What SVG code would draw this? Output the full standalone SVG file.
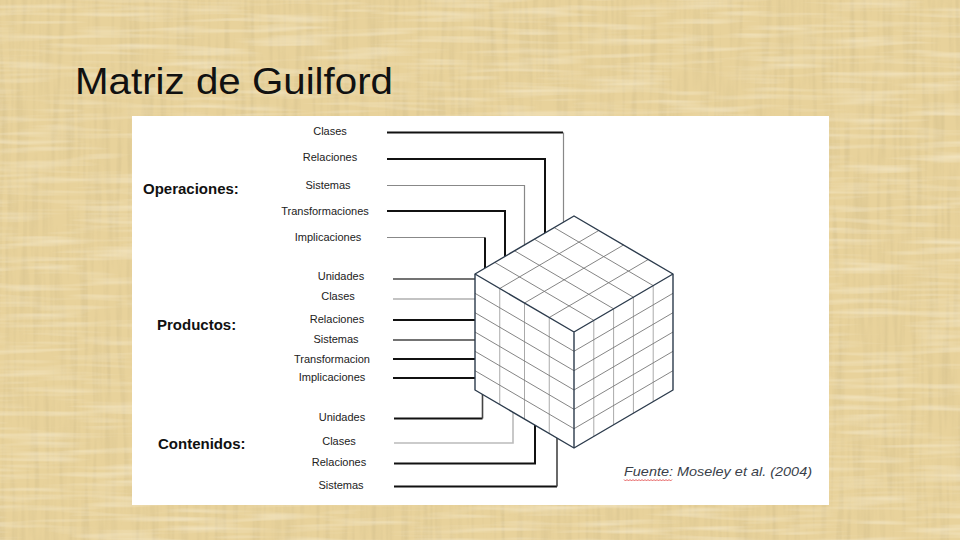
<svg xmlns="http://www.w3.org/2000/svg" width="960" height="540" viewBox="0 0 960 540">
<defs>
<filter id="tex" x="0" y="0" width="100%" height="100%">
<feTurbulence type="fractalNoise" baseFrequency="0.18 0.012" numOctaves="2" seed="3" result="v"/>
<feColorMatrix in="v" type="matrix" values="0 0 0 0 0.62 0 0 0 0 0.5 0 0 0 0 0.25 1.0 0 0 0 -0.42" result="va"/>
<feTurbulence type="fractalNoise" baseFrequency="0.012 0.18" numOctaves="2" seed="9" result="h"/>
<feColorMatrix in="h" type="matrix" values="0 0 0 0 0.98 0 0 0 0 0.93 0 0 0 0 0.78 1.0 0 0 0 -0.45" result="ha"/>
<feMerge><feMergeNode in="va"/><feMergeNode in="ha"/></feMerge>
</filter>
<style>
.lab{font-family:"Liberation Sans",Arial,sans-serif;font-size:11px;fill:#222;text-anchor:middle}
.head{font-family:"Liberation Sans",Arial,sans-serif;font-size:15px;font-weight:bold;fill:#111}
.k{fill:none;stroke:#111;stroke-width:2}
.d{fill:none;stroke:#444;stroke-width:1.6}
.g{fill:none;stroke:#888;stroke-width:1.2}
.lg{fill:none;stroke:#bbb;stroke-width:1.6}
.face{fill:#fff;stroke:none}
.gh{stroke:#777;stroke-width:0.9;fill:none}
.gv{stroke:#aaa;stroke-width:1;fill:none}
.edge{stroke:#2c3b4c;stroke-width:1.4;fill:none;stroke-linejoin:round}
</style>
</defs>
<rect x="0" y="0" width="960" height="540" fill="#e8d29b"/>
<rect x="0" y="0" width="960" height="540" filter="url(#tex)"/>
<text x="75" y="94" font-family="Liberation Sans,Arial,sans-serif" font-size="37" fill="#111" textLength="318" lengthAdjust="spacingAndGlyphs">Matriz de Guilford</text>
<rect x="132" y="116" width="697" height="389" fill="#fff"/>

<g id="connectors">
<path class="k" d="M387 132.5H563"/><path class="g" d="M563.5 132.5V230"/>
<path class="k" d="M387 159H545V240"/>
<path class="g" d="M387 185.5H524.5V250"/>
<path class="k" d="M387 211H505V262"/>
<path class="g" d="M387 237.5H485"/><path class="k" d="M485 237.5V272"/>
<path class="d" d="M393 279H476"/>
<path class="g" d="M393 299H476"/>
<path class="k" d="M393 320H476"/>
<path class="d" d="M393 340H476"/>
<path class="k" d="M393 359H476"/>
<path class="k" d="M393 378H476"/>
<path class="k" d="M394 418.5H482.5"/><path class="d" d="M482.5 418.5V392"/>
<path class="lg" d="M394 443H513V408"/>
<path class="k" d="M394 463.5H535V420"/>
<path class="k" d="M394 486.5H557"/><path class="d" d="M557 486.5V433"/>
</g>

<g id="cube">
<polygon class="face" points="574,216 475,274 475,390 574,448 673,390 673,274"/>
<g class="gh">
<path d="M494.8 262.4L593.8 320.4M514.6 250.8L613.6 308.8M534.4 239.2L633.4 297.2M554.2 227.6L653.2 285.6"/>
<path d="M499.75 288.5L598.75 230.5M524.5 303L623.5 245M549.25 317.5L648.25 259.5"/>
</g>
<g class="gv">
<path d="M499.75 288.5V404.5M524.5 303V419M549.25 317.5V433.5"/>
</g>
<g class="gh">
<path d="M475 293.3L574 351.3M475 312.7L574 370.7M475 332L574 390M475 351.3L574 409.3M475 370.7L574 428.7"/>
</g>
<g class="gv">
<path d="M593.8 320.4V436.4M613.6 308.8V424.8M633.4 297.2V413.2M653.2 285.6V401.6"/>
</g>
<g class="gh">
<path d="M574 351.3L673 293.3M574 370.7L673 312.7M574 390L673 332M574 409.3L673 351.3M574 428.7L673 370.7"/>
</g>
<polygon class="edge" points="574,216 475,274 475,390 574,448 673,390 673,274"/>
<path class="edge" d="M475 274L574 332L673 274M574 332V448"/>
</g>

<g id="labels-operaciones">
<text class="head" x="143" y="194">Operaciones:</text>
<text class="lab" x="330" y="135">Clases</text>
<text class="lab" x="330" y="161">Relaciones</text>
<text class="lab" x="328" y="189">Sistemas</text>
<text class="lab" x="325" y="215">Transformaciones</text>
<text class="lab" x="328" y="241">Implicaciones</text>
</g>
<g id="labels-productos">
<text class="head" x="157" y="330">Productos:</text>
<text class="lab" x="341" y="280">Unidades</text>
<text class="lab" x="338" y="300">Clases</text>
<text class="lab" x="337" y="323">Relaciones</text>
<text class="lab" x="336" y="343">Sistemas</text>
<text class="lab" x="332" y="363">Transformacion</text>
<text class="lab" x="332" y="381">Implicaciones</text>
</g>
<g id="labels-contenidos">
<text class="head" x="158" y="449">Contenidos:</text>
<text class="lab" x="342" y="421">Unidades</text>
<text class="lab" x="339" y="445">Clases</text>
<text class="lab" x="339" y="466">Relaciones</text>
<text class="lab" x="341" y="489">Sistemas</text>
</g>
<g id="fuente">
<text x="624" y="476" font-family="Liberation Sans,Arial,sans-serif" font-size="13" font-style="italic" fill="#3a3f4a" textLength="188" lengthAdjust="spacingAndGlyphs">Fuente:  Moseley et al. (2004)</text>
<path d="M624 479.5l1.5 1.5l1.5-1.5l1.5 1.5l1.5-1.5l1.5 1.5l1.5-1.5l1.5 1.5l1.5-1.5l1.5 1.5l1.5-1.5l1.5 1.5l1.5-1.5l1.5 1.5l1.5-1.5l1.5 1.5l1.5-1.5l1.5 1.5l1.5-1.5l1.5 1.5l1.5-1.5l1.5 1.5l1.5-1.5l1.5 1.5l1.5-1.5l1.5 1.5l1.5-1.5l1.5 1.5l1.5-1.5l1.5 1.5l1.5-1.5l1.5 1.5l1.5-1.5" fill="none" stroke="#d33" stroke-width="0.8"/>
</g>
</svg>
